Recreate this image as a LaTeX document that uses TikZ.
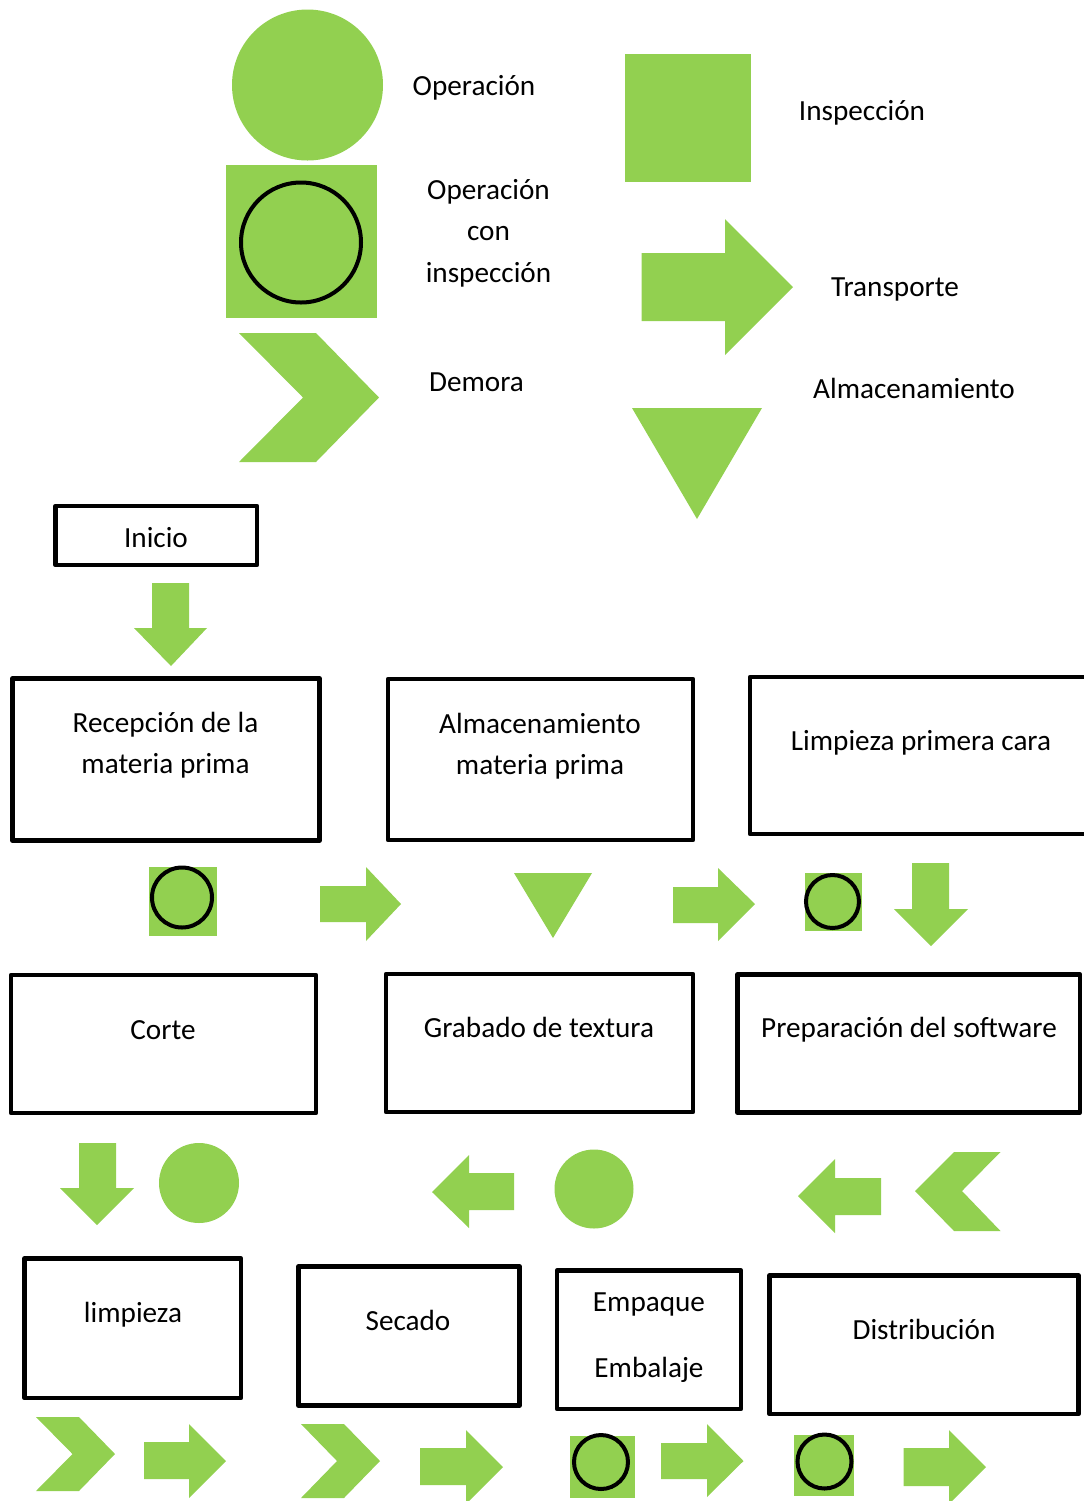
\documentclass[tikz,border=0pt]{standalone}
\usepackage{fontspec}
\setmainfont{Carlito}
\usepackage{tikz}
\usetikzlibrary{arrows.meta, calc}
\usepackage{xcolor}
\definecolor{symgreen}{RGB}{146, 208, 80}
\tikzset{
  % Cajas del proceso
  procbox/.style   = {draw=black, line width=2.4pt, line join=round},
  % Simbolos verdes
  greenshape/.style = {fill=symgreen, draw=none},
  opring/.style    = {draw=black, line width=2pt},
  % Etiquetas
  lab/.style       = {font=\fontsize{14.6}{17.5}\selectfont, anchor=base, inner sep=0pt},
}

\begin{document}
\begin{tikzpicture}[x=0.5pt, y=-0.5pt]
  \useasboundingbox (0,0) rectangle (1083,1501);

  % Leyenda: operacion
  \fill[greenshape] (307.5,85) circle[radius=75.5];
  \node[lab] (opTxt) at (474,95) {Operación};
  % Leyenda: inspeccion
  \fill[greenshape] (625,54) rectangle (751,182);
  \node[lab] (inspTxt) at (862,120) {Inspección};
  % Leyenda: operacion con inspeccion
  \fill[greenshape] (226,165) rectangle (377,318);
  \draw[opring] (301,242.5) circle[radius=60];
  \node[lab] (opinsTxtA) at (488.5,199) {Operación};
  \node[lab] (opinsTxtB) at (488.5,240) {con};
  \node[lab] (opinsTxtC) at (488.5,282) {inspección};
  % Leyenda: transporte
  \fill[greenshape] (641.5,253) -- (725,253) -- (725,219) -- (793,287)
    -- (725,355) -- (725,321) -- (641.5,321) -- cycle;
  \node[lab] (transTxt) at (895,296) {Transporte};
  % Leyenda: demora
  \fill[greenshape] (239,333) -- (316,333) -- (379,397.5) -- (316,462)
    -- (239,462) -- (303,397.5) -- cycle;
  \node[lab] (demTxt) at (476.5,391) {Demora};
  % Leyenda: almacenamiento
  \fill[greenshape] (632,408) -- (762,408) -- (697,519) -- cycle;
  \node[lab] (almTxt) at (914,398) {Almacenamiento};

  % Inicio
  \draw[procbox] (55.5,506) rectangle (257,565);
  \node[lab] (inicio) at (156,547) {Inicio};
  \fill[greenshape] (152,583) -- (189,583) -- (189,628) -- (207,628)
    -- (171,666) -- (134,628) -- (152,628) -- cycle;

  % Fila 1
  \draw[procbox] (12.5,678.5) rectangle (319.5,840.5);
  \node[lab] (recepA) at (165.5,732) {Recepción de la};
  \node[lab] (recepB) at (165.5,773) {materia prima};
  \draw[procbox] (388,679) rectangle (693,840);
  \node[lab] (almmpA) at (540,733) {Almacenamiento};
  \node[lab] (almmpB) at (540,774) {materia prima};
  \draw[procbox] (750,677) rectangle (1095,834);
  \node[lab] (limpcara) at (921,750) {Limpieza primera cara};

  % Simbolos entre fila 1 y fila 2
  \fill[greenshape] (149,867) rectangle (217,936);
  \draw[opring] (182,897.5) circle[radius=30];
  \fill[greenshape] (320,886) -- (366,886) -- (366,867) -- (401,904)
    -- (366,941) -- (366,922) -- (320,922) -- cycle;
  \fill[greenshape] (514,873) -- (592,873) -- (553,938) -- cycle;
  \fill[greenshape] (673,887) -- (718,887) -- (718,868) -- (755,904)
    -- (718,941) -- (718,923) -- (673,923) -- cycle;
  \fill[greenshape] (805,873) rectangle (862,931);
  \draw[opring] (832.5,901.5) circle[radius=26.5];
  \fill[greenshape] (912,863) -- (949,863) -- (949,909) -- (968,909)
    -- (931,946) -- (894,909) -- (912,909) -- cycle;

  % Fila 2
  \draw[procbox] (11,975) rectangle (316,1113);
  \node[lab] (corte) at (163,1039) {Corte};
  \draw[procbox] (386,974) rectangle (693,1112);
  \node[lab] (grabado) at (539,1037) {Grabado de textura};
  \draw[procbox] (737.5,974.5) rectangle (1080,1112.5);
  \node[lab] (prepsw) at (909,1037) {Preparación del software};

  % Simbolos entre fila 2 y fila 3
  \fill[greenshape] (79,1143) -- (116,1143) -- (116,1188) -- (134,1188)
    -- (97,1225) -- (60,1188) -- (79,1188) -- cycle;
  \fill[greenshape] (199,1183) circle[radius=40];
  \fill[greenshape] (514,1173) -- (469,1173) -- (469,1155) -- (432,1192)
    -- (469,1228) -- (469,1210) -- (514,1210) -- cycle;
  \fill[greenshape] (594,1189) circle[radius=39.5];
  \fill[greenshape] (881,1178) -- (835,1178) -- (835,1159) -- (798,1196)
    -- (835,1233) -- (835,1215) -- (881,1215) -- cycle;
  \fill[greenshape] (1000.5,1152) -- (954,1152) -- (915,1191) -- (954,1231)
    -- (1000.5,1231) -- (962,1191) -- cycle;

  % Fila 3
  \draw[procbox] (24.5,1258.5) rectangle (241,1398);
  \node[lab] (limpieza) at (133,1322) {limpieza};
  \draw[procbox] (298.5,1266.5) rectangle (519.5,1405.5);
  \node[lab] (secado) at (408,1330) {Secado};
  \draw[procbox] (557,1270.5) rectangle (741,1409);
  \node[lab] (empaqueA) at (649,1311) {Empaque};
  \node[lab] (empaqueB) at (649,1377) {Embalaje};
  \draw[procbox] (769.5,1275.5) rectangle (1078.5,1414);
  \node[lab] (distrib) at (924,1339) {Distribución};

  % Simbolos finales
  \fill[greenshape] (36,1417) -- (79,1417) -- (115,1454) -- (79,1491)
    -- (36,1491) -- (72.5,1454) -- cycle;
  \fill[greenshape] (144,1442) -- (189,1442) -- (189,1424) -- (226,1461)
    -- (189,1498) -- (189,1479) -- (144,1479) -- cycle;
  \fill[greenshape] (301,1424) -- (344,1424) -- (380,1461) -- (344,1498)
    -- (301,1498) -- (337,1461) -- cycle;
  \fill[greenshape] (420,1448) -- (466,1448) -- (466,1430) -- (503,1467)
    -- (466,1504) -- (466,1485) -- (420,1485) -- cycle;
  \fill[greenshape] (570,1436) rectangle (634.5,1498);
  \draw[opring] (601,1462) circle[radius=27];
  \fill[greenshape] (661,1443) -- (707,1443) -- (707,1424) -- (743.5,1461)
    -- (707,1497) -- (707,1479) -- (661,1479) -- cycle;
  \fill[greenshape] (794,1435) rectangle (854,1496);
  \draw[opring] (824.5,1461.5) circle[radius=27];
  \fill[greenshape] (903.5,1448) -- (949,1448) -- (949,1430) -- (986,1467)
    -- (949,1504) -- (949,1486) -- (903.5,1486) -- cycle;
\end{tikzpicture}
\end{document}
